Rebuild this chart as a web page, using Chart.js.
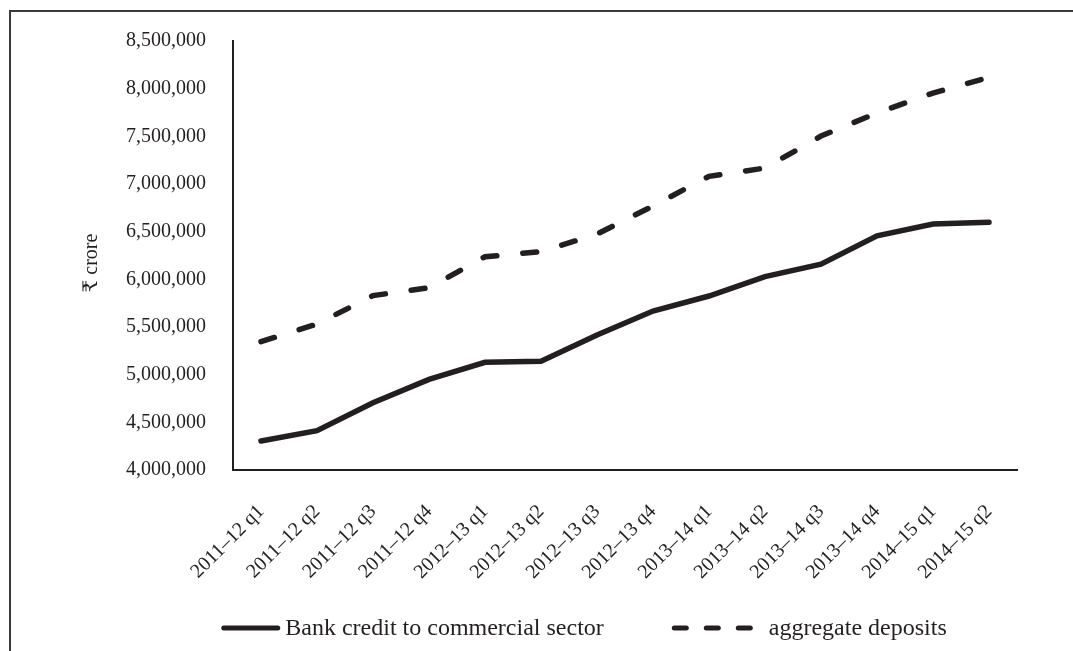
<!DOCTYPE html>
<html>
<head>
<meta charset="utf-8">
<script src="https://cdn.jsdelivr.net/npm/chart.js@4/dist/chart.umd.min.js"></script>
<style>
  html, body { margin: 0; padding: 0; background: #ffffff; }
  body { width: 1073px; height: 651px; position: relative; overflow: hidden; }
  #frame { position: absolute; left: 9px; top: 10px; width: 1100px; height: 700px;
           border-left: 2px solid #3a3a3a; border-top: 2px solid #3a3a3a; }
  #c { position: absolute; left: 0; top: 0; }
</style>
</head>
<body>
<div id="frame"></div>
<canvas id="c" width="1073" height="651"></canvas>
<script>
// ---- data ----
const categories = [
  "2011\u201312 q1", "2011\u201312 q2", "2011\u201312 q3", "2011\u201312 q4",
  "2012\u201313 q1", "2012\u201313 q2", "2012\u201313 q3", "2012\u201313 q4",
  "2013\u201314 q1", "2013\u201314 q2", "2013\u201314 q3", "2013\u201314 q4",
  "2014\u201315 q1", "2014\u201315 q2"
];
const bankCredit = [
  4304000, 4412000, 4706000, 4951000, 5130000, 5140000, 5416000,
  5668000, 5825000, 6028000, 6160000, 6457000, 6580000, 6598000
];
const aggregateDeposits = [
  5346000, 5531000, 5829000, 5912000, 6237000, 6290000, 6475000,
  6769000, 7081000, 7167000, 7503000, 7745000, 7954000, 8119000
];
const seriesNames = ["Bank credit to commercial sector", "aggregate deposits"];
const yMin = 4000000;
const yMax = 8500000;
const yStep = 500000;
const yTitle = "\u20B9 crore";

// ---- style ----
const INK = "#231f20";
const FONT = '"Liberation Serif", "Times New Roman", "DejaVu Serif", "Noto Sans", serif';
Chart.defaults.font.family = FONT;
Chart.defaults.color = INK;

const legendPlugin = {
  id: "customLegend",
  afterDraw(chart) {
    const ctx = chart.ctx;
    const specs = [
      { ds: 0, sample: 59, gap: 5, width: 5, dash: [] },
      { ds: 1, sample: 82, gap: 15, width: 5, dash: [12, 20] }
    ];
    const itemGap = 68;
    const cx = 584, cy = 628;
    ctx.save();
    ctx.font = "24px " + FONT;
    let total = itemGap;
    specs.forEach(s => {
      s.text = chart.data.datasets[s.ds].label;
      s.tw = ctx.measureText(s.text).width;
      total += s.sample + s.gap + s.tw;
    });
    let x = cx - total / 2;
    specs.forEach((s, i) => {
      const ds = chart.data.datasets[s.ds];
      ctx.beginPath();
      ctx.strokeStyle = ds.borderColor;
      ctx.lineWidth = s.width;
      ctx.lineCap = "round";
      ctx.setLineDash(s.dash);
      ctx.moveTo(x + s.width / 2, cy);
      ctx.lineTo(x + s.sample - s.width / 2, cy);
      ctx.stroke();
      ctx.setLineDash([]);
      ctx.fillStyle = INK;
      ctx.textBaseline = "middle";
      ctx.textAlign = "left";
      ctx.fillText(s.text, x + s.sample + s.gap, cy + 1);
      x += s.sample + s.gap + s.tw + itemGap;
    });
    ctx.restore();
  }
};

new Chart(document.getElementById("c"), {
  type: "line",
  data: {
    labels: categories,
    datasets: [
      {
        label: seriesNames[0],
        data: bankCredit,
        borderColor: INK,
        borderWidth: 5.5,
        pointRadius: 0,
        tension: 0,
        borderCapStyle: "round",
        borderJoinStyle: "miter",
        fill: false
      },
      {
        label: seriesNames[1],
        data: aggregateDeposits,
        borderColor: INK,
        borderWidth: 5.5,
        borderDash: [14, 26],
        borderCapStyle: "round",
        pointRadius: 0,
        tension: 0,
        fill: false
      }
    ]
  },
  options: {
    responsive: false,
    animation: false,
    devicePixelRatio: 1,
    layout: { padding: { left: 0, right: 56, top: 41, bottom: 71 } },
    plugins: {
      legend: { display: false },
      tooltip: { enabled: false }
    },
    scales: {
      x: {
        type: "category",
        offset: true,
        grid: { display: false, drawTicks: false },
        border: { display: true, color: INK, width: 2 },
        ticks: {
          minRotation: 45,
          maxRotation: 45,
          autoSkip: false,
          padding: 30,
          font: { size: 20 },
          color: INK
        },
        afterFit(scale) { scale.height = 110; }
      },
      y: {
        min: yMin,
        max: yMax,
        grid: { display: false, drawTicks: false },
        border: { display: true, color: INK, width: 2 },
        ticks: {
          stepSize: yStep,
          padding: 27,
          font: { size: 20 },
          color: INK,
          callback: v => Number(v).toLocaleString("en-US")
        },
        title: {
          display: true,
          text: yTitle + "   ",
          font: { size: 20 },
          color: INK,
          padding: { top: 80, bottom: 0 }
        },
        afterFit(scale) { scale.width = 233; }
      }
    }
  },
  plugins: [legendPlugin]
});
</script>
</body>
</html>
